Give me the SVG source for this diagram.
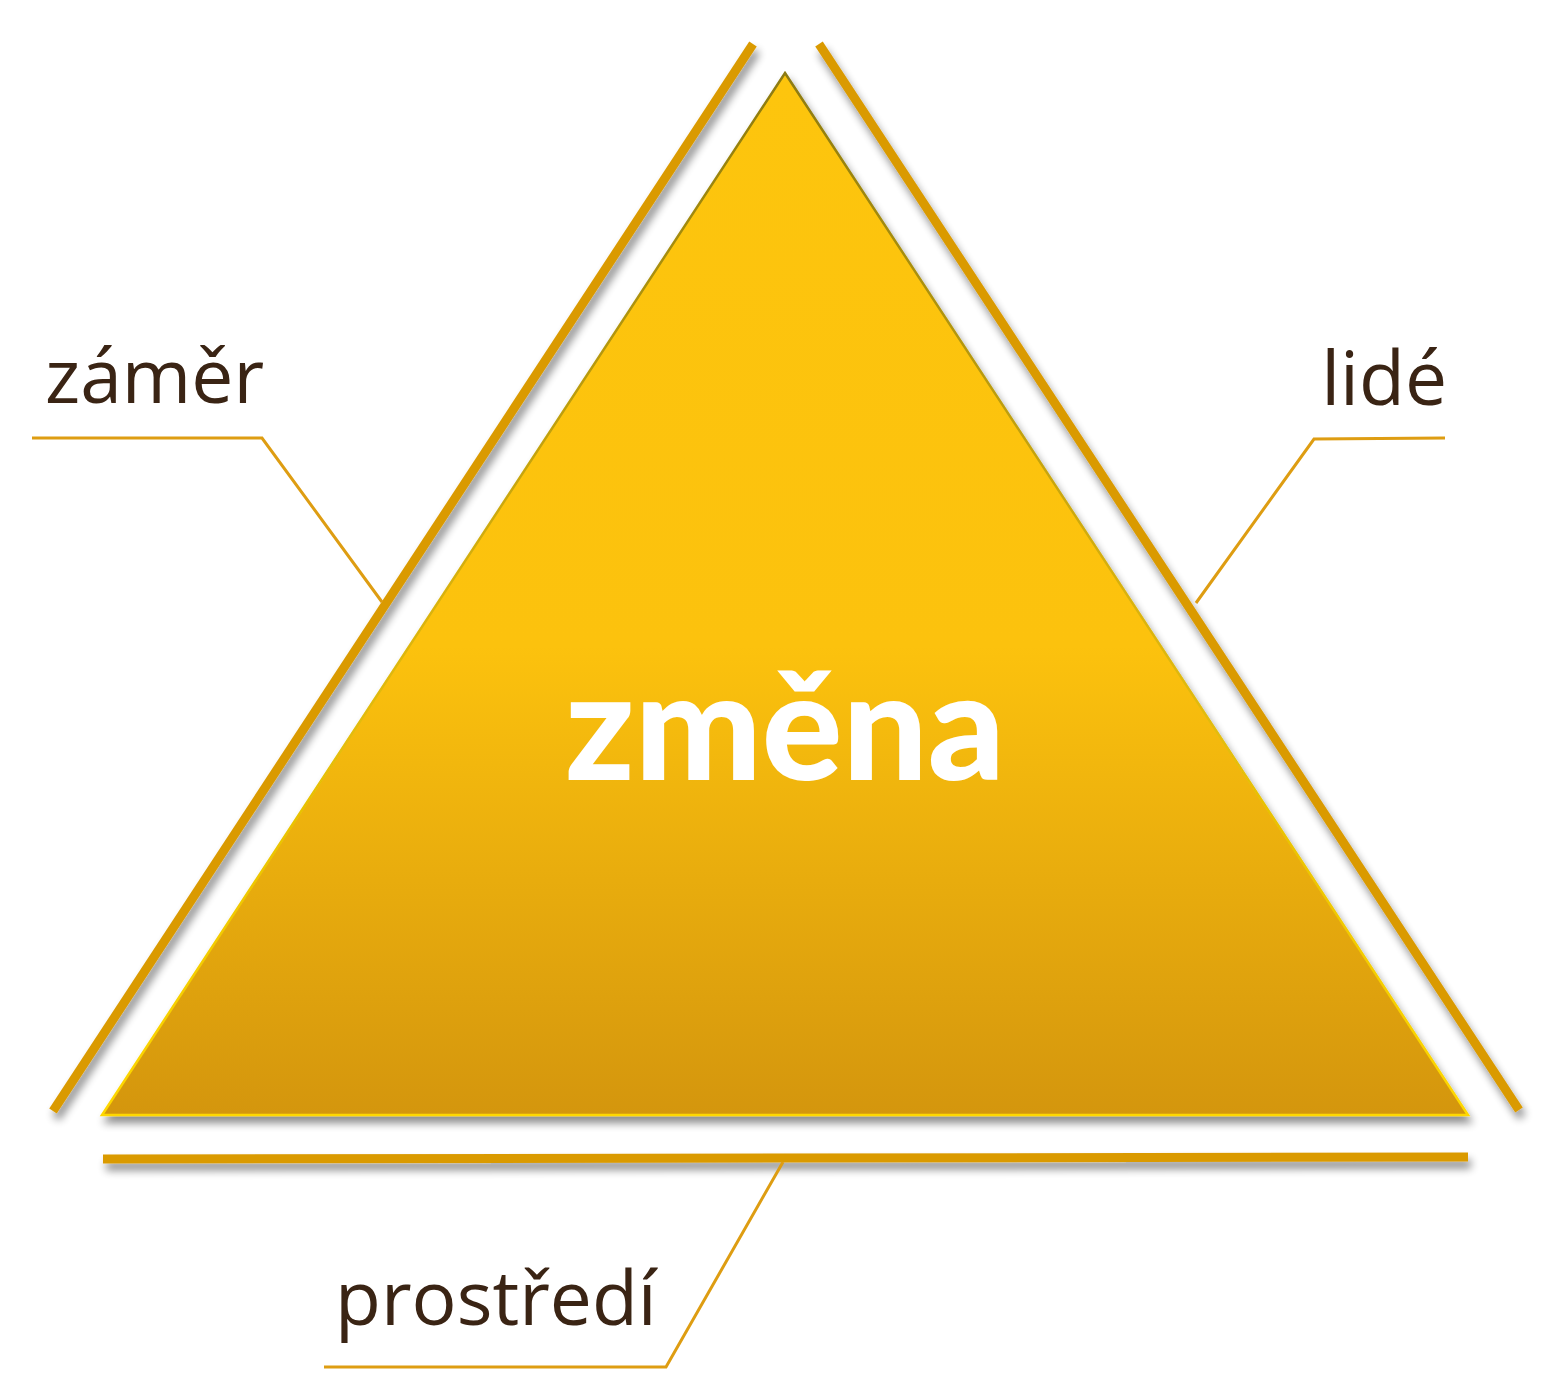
<svg xmlns="http://www.w3.org/2000/svg" width="1558" height="1400" viewBox="0 0 1558 1400">
<defs>
<style>
.bar{stroke:#DA9A00;stroke-width:9;fill:none;stroke-linecap:butt}
.lead{stroke:#DE9D12;stroke-width:3;fill:none}
.lbl{font-family:"Open Sans","Noto Sans",sans-serif;font-size:75px;fill:#3A2414}
.main{font-family:Lato,"Open Sans",sans-serif;font-weight:900;font-size:150px;fill:#FFFFFF}
</style>
<linearGradient id="fillG" x1="0" y1="73" x2="0" y2="1115" gradientUnits="userSpaceOnUse">
<stop offset="0" stop-color="#FDC50C"/>
<stop offset="0.55" stop-color="#FCC20A"/>
<stop offset="1" stop-color="#D4960A"/>
</linearGradient>
<linearGradient id="strokeG" x1="0" y1="73" x2="0" y2="1115" gradientUnits="userSpaceOnUse">
<stop offset="0" stop-color="#8C7A12"/>
<stop offset="0.5" stop-color="#D9B20A"/>
<stop offset="1" stop-color="#FFD800"/>
</linearGradient>
<filter id="sh" x="-10%" y="-10%" width="120%" height="130%">
<feGaussianBlur in="SourceAlpha" stdDeviation="4"/>
<feOffset dx="3" dy="7" result="b"/>
<feComponentTransfer><feFuncA type="linear" slope="0.45"/></feComponentTransfer>
<feMerge><feMergeNode/><feMergeNode in="SourceGraphic"/></feMerge>
</filter>
</defs>
<rect width="1558" height="1400" fill="#FFFFFF"/>
<g id="triangle" filter="url(#sh)">
<polygon points="785,73 1468,1115 102,1115" fill="url(#fillG)" stroke="url(#strokeG)" stroke-width="2.5" stroke-linejoin="miter"/>
</g>
<g id="bars" filter="url(#sh)">
<line class="bar" x1="753" y1="44" x2="53" y2="1111"/>
<line class="bar" x1="819" y1="44" x2="1519" y2="1110"/>
<line class="bar" x1="103" y1="1159" x2="1468" y2="1157"/>
</g>
<g id="connectors">
<polyline class="lead" points="32,438 262,438 382,602"/>
<polyline class="lead" points="1445,438 1314,439 1196,603"/>
<polyline class="lead" points="324,1367 666,1367 783,1162"/>
</g>
<g id="node-zmena">
<text class="main" x="785" y="780" text-anchor="middle" textLength="440" lengthAdjust="spacingAndGlyphs">změna</text>
</g>
<g id="node-zamer">
<text class="lbl" x="45" y="403">záměr</text>
</g>
<g id="node-lide">
<text class="lbl" x="1447" y="405" text-anchor="end">lidé</text>
</g>
<g id="node-prostredi">
<text class="lbl" x="335" y="1325">prostředí</text>
</g>
</svg>
